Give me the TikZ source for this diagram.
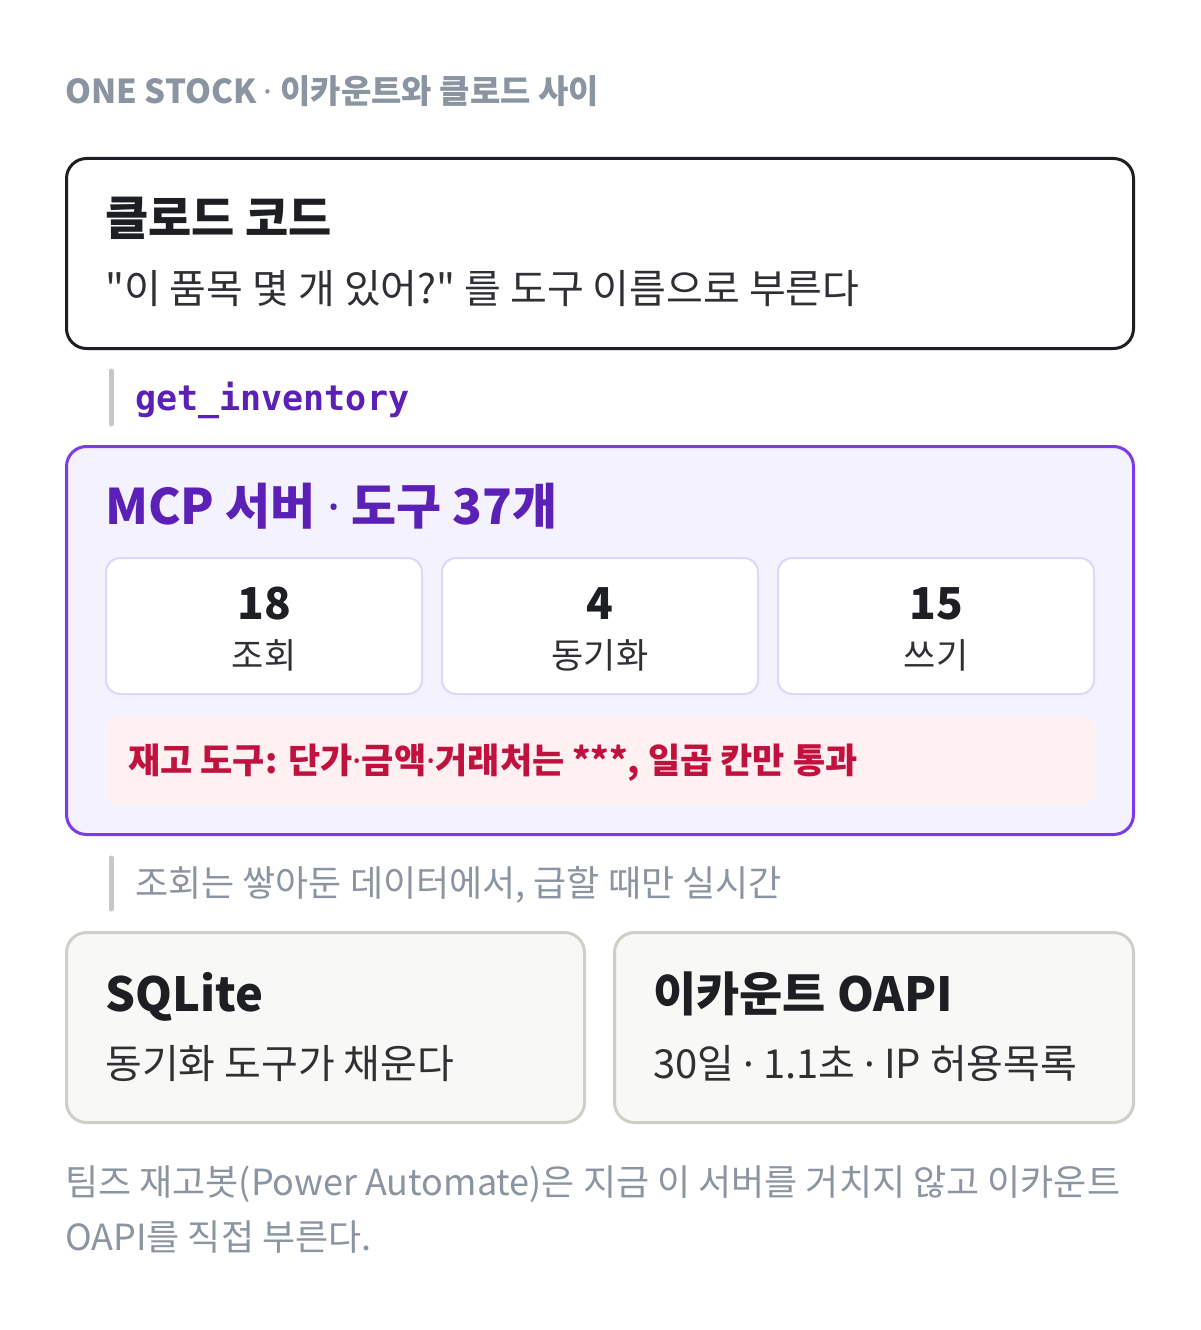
\documentclass[tikz,border=0pt]{standalone}
\usepackage{fontspec}
\setmainfont{Noto Sans CJK KR}[Ligatures=TeXOff]
\newfontfamily\codefont{DejaVu Sans Mono}
\newfontfamily\dotfont{Noto Sans}
\usetikzlibrary{positioning}
\definecolor{headgray}{HTML}{8B94A1}
\definecolor{inkdark}{HTML}{1E1F22}
\definecolor{inksoft}{HTML}{2E3033}
\definecolor{mcpline}{HTML}{7C3AED}
\definecolor{mcpfill}{HTML}{F5F2FF}
\definecolor{mcpink}{HTML}{5B21B6}
\definecolor{tileline}{HTML}{DDD6FE}
\definecolor{warnfill}{HTML}{FFF0F2}
\definecolor{warnink}{HTML}{C0113F}
\definecolor{bargray}{HTML}{C8C8C2}
\definecolor{cardfill}{HTML}{F8F8F6}
\definecolor{cardline}{HTML}{CFCFC9}
% size in px (1px = 0.75pt)
\newcommand\px[1]{\fontsize{\the\dimexpr #1pt*3/4\relax}{\the\dimexpr #1pt*9/8\relax}\selectfont}
\newcommand\md{{\dotfont ·}}

\begin{document}
\begin{tikzpicture}[x=0.75pt,y=-0.75pt]
\tikzstyle{panel}=[draw,rounded corners=15pt,line width=2.25pt,
inner sep=0pt,outer sep=0pt,anchor=north west]
\tikzstyle{tile}=[draw=tileline,fill=white,rounded corners=10.5pt,line width=1.5pt,
inner sep=0pt,outer sep=0pt,anchor=north west,
minimum width=237pt,minimum height=102pt]
\tikzstyle{txt}=[inner sep=0pt,anchor=base west]
\tikzstyle{bar}=[draw=bargray,line width=3.75pt,line cap=round]
\useasboundingbox[fill=white] (0,0) rectangle (1200,1330);

\node[txt,text=headgray] (head) at (65,104) {\px{33}\bfseries ONE STOCK \md{} 이카운트와 클로드 사이};

% claude code
\node[panel,draw=inkdark,fill=white,minimum width=800.25pt,minimum height=142.5pt]
  (claude) at (66.5,158.5) {};
\node[txt,text=inkdark] (claudet) at (105,236) {\px{47}\bfseries 클로드 코드};
\node[txt,text=inksoft] (claudes) at (105,303) {\px{40}"이 품목 몇 개 있어?" 를 도구 이름으로 부른다};

\coordinate (bar1a) at (111,371);
\coordinate (bar1b) at (111,424);
\draw[bar] (bar1a) -- (bar1b);
\node[txt,text=mcpink] (call) at (135,410) {\px{35}\codefont\bfseries get\_inventory};

% mcp server
\node[panel,draw=mcpline,fill=mcpfill,minimum width=800.25pt,minimum height=291pt]
  (mcp) at (66.5,446.5) {};
\node[txt,text=mcpink] (mcpt) at (105,524) {\px{49}\bfseries MCP 서버 \md{} 도구 37개};

\node[tile] (read) at (106,558) {};
\node[tile] (sync) at (442,558) {};
\node[tile] (write) at (778,558) {};
\foreach \t/\n/\l in {read/18/조회,sync/4/동기화,write/15/쓰기}{
  \node[inner sep=0pt,anchor=base,text=inkdark] (\t n) at ([yshift=-61*0.75pt]\t.north) {\px{44}\bfseries \n};
  \node[inner sep=0pt,anchor=base,text=inksoft] (\t l) at ([yshift=-110*0.75pt]\t.north) {\px{35}\l};
}

\node[fill=warnfill,rounded corners=10.5pt,inner sep=0pt,anchor=north west,
  minimum width=742.5pt,minimum height=66pt] (warn) at (105,716) {};
\node[txt,text=warnink] (warnt) at (128,773) {\px{35}\bfseries 재고 도구: 단가\md 금액\md 거래처는 ***, 일곱 칸만 통과};

\coordinate (bar2a) at (111,858);
\coordinate (bar2b) at (111,909);
\draw[bar] (bar2a) -- (bar2b);
\node[txt,text=headgray] (route) at (135,896) {\px{36}조회는 쌓아둔 데이터에서, 급할 때만 실시간};

% sources
\node[panel,draw=cardline,fill=cardfill,minimum width=388.5pt,minimum height=142.5pt]
  (sqlite) at (66.5,932.5) {};
\node[panel,draw=cardline,fill=cardfill,minimum width=389.25pt,minimum height=142.5pt]
  (oapi) at (614.5,932.5) {};
\node[txt,text=inkdark] (sqlitet) at (105,1011) {\px{47}\bfseries SQLite};
\node[txt,text=inksoft] (sqlites) at (105,1078) {\px{40}동기화 도구가 채운다};
\node[txt,text=inkdark] (oapit) at (653,1011) {\px{47}\bfseries 이카운트 OAPI};
\node[txt,text=inksoft] (oapis) at (653,1078) {\px{40}30일 \md{} 1.1초 \md{} IP 허용목록};

\node[txt,text=headgray] (note1) at (65,1195) {\px{36}팀즈 재고봇(Power Automate)은 지금 이 서버를 거치지 않고 이카운트};
\node[txt,text=headgray] (note2) at (65,1250) {\px{36}OAPI를 직접 부른다.};
\end{tikzpicture}
\end{document}
